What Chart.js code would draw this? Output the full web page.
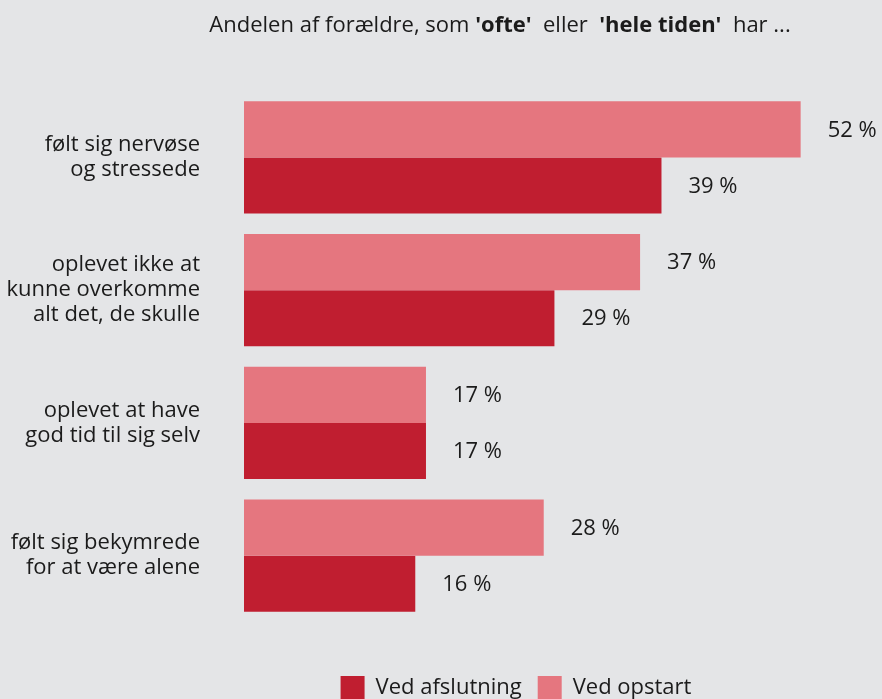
<!DOCTYPE html>
<html lang="da">
<head>
<meta charset="UTF-8">
<title>Andelen af forældre</title>
<script src="https://cdn.jsdelivr.net/npm/chart.js"></script>
<style>
  html, body { margin: 0; padding: 0; background: #e4e5e7; overflow: hidden; }
  canvas { display: block; }
</style>
</head>
<body>
<canvas id="chart" width="882" height="720"></canvas>
<script>
// data
const categories = [
    ["følt sig nervøse", "og stressede"],
    ["oplevet ikke at", "kunne overkomme", "alt det, de skulle"],
    ["oplevet at have", "god tid til sig selv"],
    ["følt sig bekymrede", "for at være alene"]
];
const opstart = [52, 37, 17, 28];
const afslutning = [39, 29, 17, 16];
const seriesNames = ["Ved opstart", "Ved afslutning"];
const titleParts = [
    { text: "Andelen af forældre, som ", bold: false },
    { text: "'ofte'", bold: true },
    { text: "  eller  ", bold: false },
    { text: "'hele tiden'", bold: true },
    { text: "  har ...", bold: false }
];

const FONT = "'Open Sans', 'Noto Sans', sans-serif";
const TEXT = "#1b1b1b";
Chart.defaults.font.family = FONT;
Chart.defaults.color = TEXT;

const titlePlugin = {
    id: "mixedTitle",
    afterDraw(chart) {
        const ctx = chart.ctx;
        ctx.save();
        ctx.textBaseline = "middle";
        let total = 0;
        titleParts.forEach(p => {
            ctx.font = (p.bold ? "bold " : "") + "22px " + FONT;
            p.w = ctx.measureText(p.text).width;
            total += p.w;
        });
        let x = 500 - total / 2;
        titleParts.forEach(p => {
            ctx.font = (p.bold ? "bold " : "") + "22px " + FONT;
            ctx.fillStyle = TEXT;
            ctx.fillText(p.text, x, 26);
            x += p.w;
        });
        ctx.restore();
    }
};

const valueLabels = {
    id: "valueLabels",
    afterDatasetsDraw(chart) {
        const ctx = chart.ctx;
        ctx.save();
        ctx.font = "22px " + FONT;
        ctx.fillStyle = TEXT;
        ctx.textBaseline = "middle";
        chart.data.datasets.forEach((ds, i) => {
            chart.getDatasetMeta(i).data.forEach((bar, j) => {
                ctx.fillText(ds.data[j] + " %", bar.x + 27, bar.y + 1);
            });
        });
        ctx.restore();
    }
};

// move the legend right and down, like in the original
const shiftLegend = {
    id: "shiftLegend",
    afterLayout(chart) {
        const lg = chart.legend;
        lg.left += 150;
        lg.top += 38;
        lg.bottom += 38;
    }
};

new Chart(document.getElementById("chart"), {
    type: "bar",
    data: {
        labels: categories,
        datasets: [
            { label: seriesNames[0], data: opstart, backgroundColor: "#e5767f" },
            { label: seriesNames[1], data: afslutning, backgroundColor: "#c01e30" }
        ]
    },
    options: {
        indexAxis: "y",
        responsive: false,
        animation: false,
        layout: { padding: { top: 91, bottom: 48, left: 0, right: 0 } },
        datasets: { bar: { categoryPercentage: 0.844, barPercentage: 1.0 } },
        scales: {
            x: { display: false, min: 0, max: 59.6 },
            y: {
                grid: { display: false, drawTicks: false },
                border: { display: false },
                ticks: { padding: 44, font: { size: 22, lineHeight: 1.14 }, color: TEXT },
                afterFit(scale) { scale.width = 244; }
            }
        },
        plugins: {
            title: { display: false },
            tooltip: { enabled: false },
            legend: {
                position: "bottom",
                reverse: true,
                labels: {
                    boxWidth: 24,
                    boxHeight: 24,
                    padding: 16,
                    font: { size: 22 },
                    color: TEXT
                }
            }
        }
    },
    plugins: [titlePlugin, valueLabels, shiftLegend]
});
</script>
</body>
</html>
